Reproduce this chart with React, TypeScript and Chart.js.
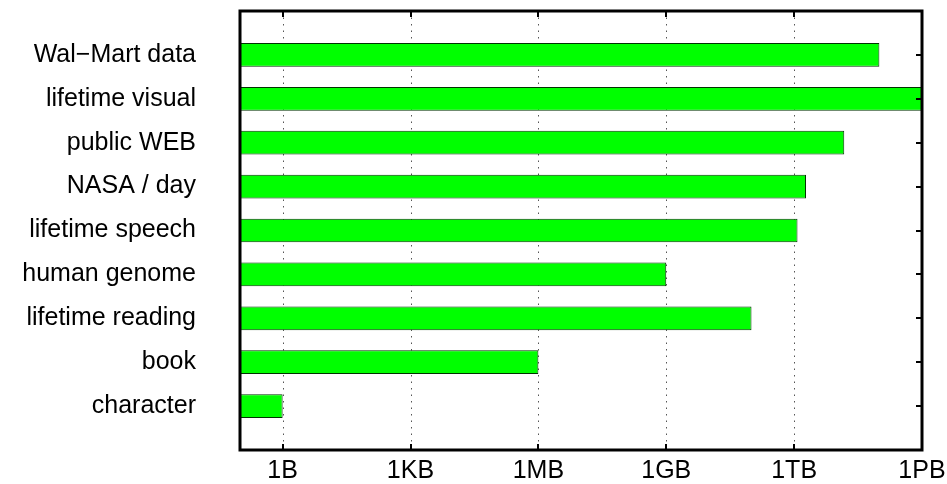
import React, { useEffect, useRef } from "react";
import { Chart, registerables } from "chart.js";

Chart.register(...registerables);

const categories = [
  "Wal\u2212Mart data",
  "lifetime visual",
  "public WEB",
  "NASA / day",
  "lifetime speech",
  "human genome",
  "lifetime reading",
  "book",
  "character",
];
const bytes = [1e14, 1e15, 1.5e13, 1.9e12, 1.2e12, 1e9, 1e11, 1e6, 1];
const tickValues = [1, 1e3, 1e6, 1e9, 1e12, 1e15];
const tickLabels = ["1B", "1KB", "1MB", "1GB", "1TB", "1PB"];

const FONT = "'Liberation Sans', Arial, sans-serif";

const framePlugin = {
  id: "frame",
  beforeDatasetsDraw(chart: any) {
    const { ctx, chartArea: a, scales } = chart;
    const x = scales.x;
    ctx.save();
    ctx.strokeStyle = "#555";
    ctx.lineWidth = 1;
    ctx.setLineDash([1.5, 5]);
    tickValues.forEach((v) => {
      const px = Math.round(x.getPixelForValue(v)) + 0.5;
      ctx.beginPath();
      ctx.moveTo(px, a.top);
      ctx.lineTo(px, a.bottom);
      ctx.stroke();
    });
    ctx.restore();
  },
  afterDatasetsDraw(chart: any) {
    const { ctx, chartArea: a, scales } = chart;
    const x = scales.x;
    const y = scales.y;
    ctx.save();
    ctx.strokeStyle = "#000";
    ctx.lineWidth = 2;
    tickValues.forEach((v) => {
      const px = Math.round(x.getPixelForValue(v));
      ctx.beginPath();
      ctx.moveTo(px, a.bottom);
      ctx.lineTo(px, a.bottom - 6);
      ctx.moveTo(px, a.top);
      ctx.lineTo(px, a.top + 6);
      ctx.stroke();
    });
    for (let i = 1; i <= categories.length; i++) {
      const py = Math.round(y.getPixelForValue(i));
      ctx.beginPath();
      ctx.moveTo(a.right, py);
      ctx.lineTo(a.right - 6, py);
      ctx.stroke();
    }
    ctx.lineWidth = 3;
    ctx.strokeRect(a.left, a.top, a.right - a.left, a.bottom - a.top);
    ctx.restore();
  },
};

export default function App() {
  const ref = useRef<HTMLCanvasElement>(null);
  useEffect(() => {
    const labels = ["", ...categories, ""];
    const data = [null, ...bytes, null];
    const chart = new Chart(ref.current as HTMLCanvasElement, {
      type: "bar",
      data: {
        labels,
        datasets: [
          {
            data: data as any,
            backgroundColor: "#00ff00",
            borderColor: "#003300",
            borderWidth: 1,
            borderSkipped: false,
            barPercentage: 0.54,
            categoryPercentage: 1,
          },
        ],
      },
      options: {
        indexAxis: "y",
        animation: false,
        responsive: false,
        maintainAspectRatio: false,
        layout: { padding: { top: 11, right: 25, left: 0, bottom: 0 } },
        plugins: { legend: { display: false }, tooltip: { enabled: false } },
        scales: {
          x: {
            type: "logarithmic",
            min: 0.1,
            max: 1e15,
            grid: { display: false, drawTicks: false },
            border: { display: false },
            afterBuildTicks: (s: any) => {
              s.ticks = tickValues.map((v) => ({ value: v }));
            },
            afterFit: (s: any) => {
              s.height = 34;
              s.paddingLeft = 0;
              s.paddingRight = 0;
            },
            ticks: {
              color: "#000",
              padding: 6,
              autoSkip: false,
              maxRotation: 0,
              font: { family: FONT, size: 25 },
              callback: (v: any) => {
                const i = tickValues.indexOf(Number(v));
                return i >= 0 ? tickLabels[i] : "";
              },
            },
          },
          y: {
            type: "category",
            offset: false,
            grid: { display: false, drawTicks: false },
            border: { display: false },
            afterFit: (s: any) => {
              s.width = 240;
              s.paddingTop = 0;
              s.paddingBottom = 0;
            },
            ticks: {
              color: "#000",
              padding: 44,
              autoSkip: false,
              font: { family: FONT, size: 25 },
            },
          },
        },
      },
      plugins: [framePlugin],
    });
    return () => chart.destroy();
  }, []);
  return (
    <div style={{ position: "fixed", left: 0, top: 0, width: 947, height: 484, background: "#fff" }}>
      <canvas ref={ref} width={947} height={484} />
    </div>
  );
}
